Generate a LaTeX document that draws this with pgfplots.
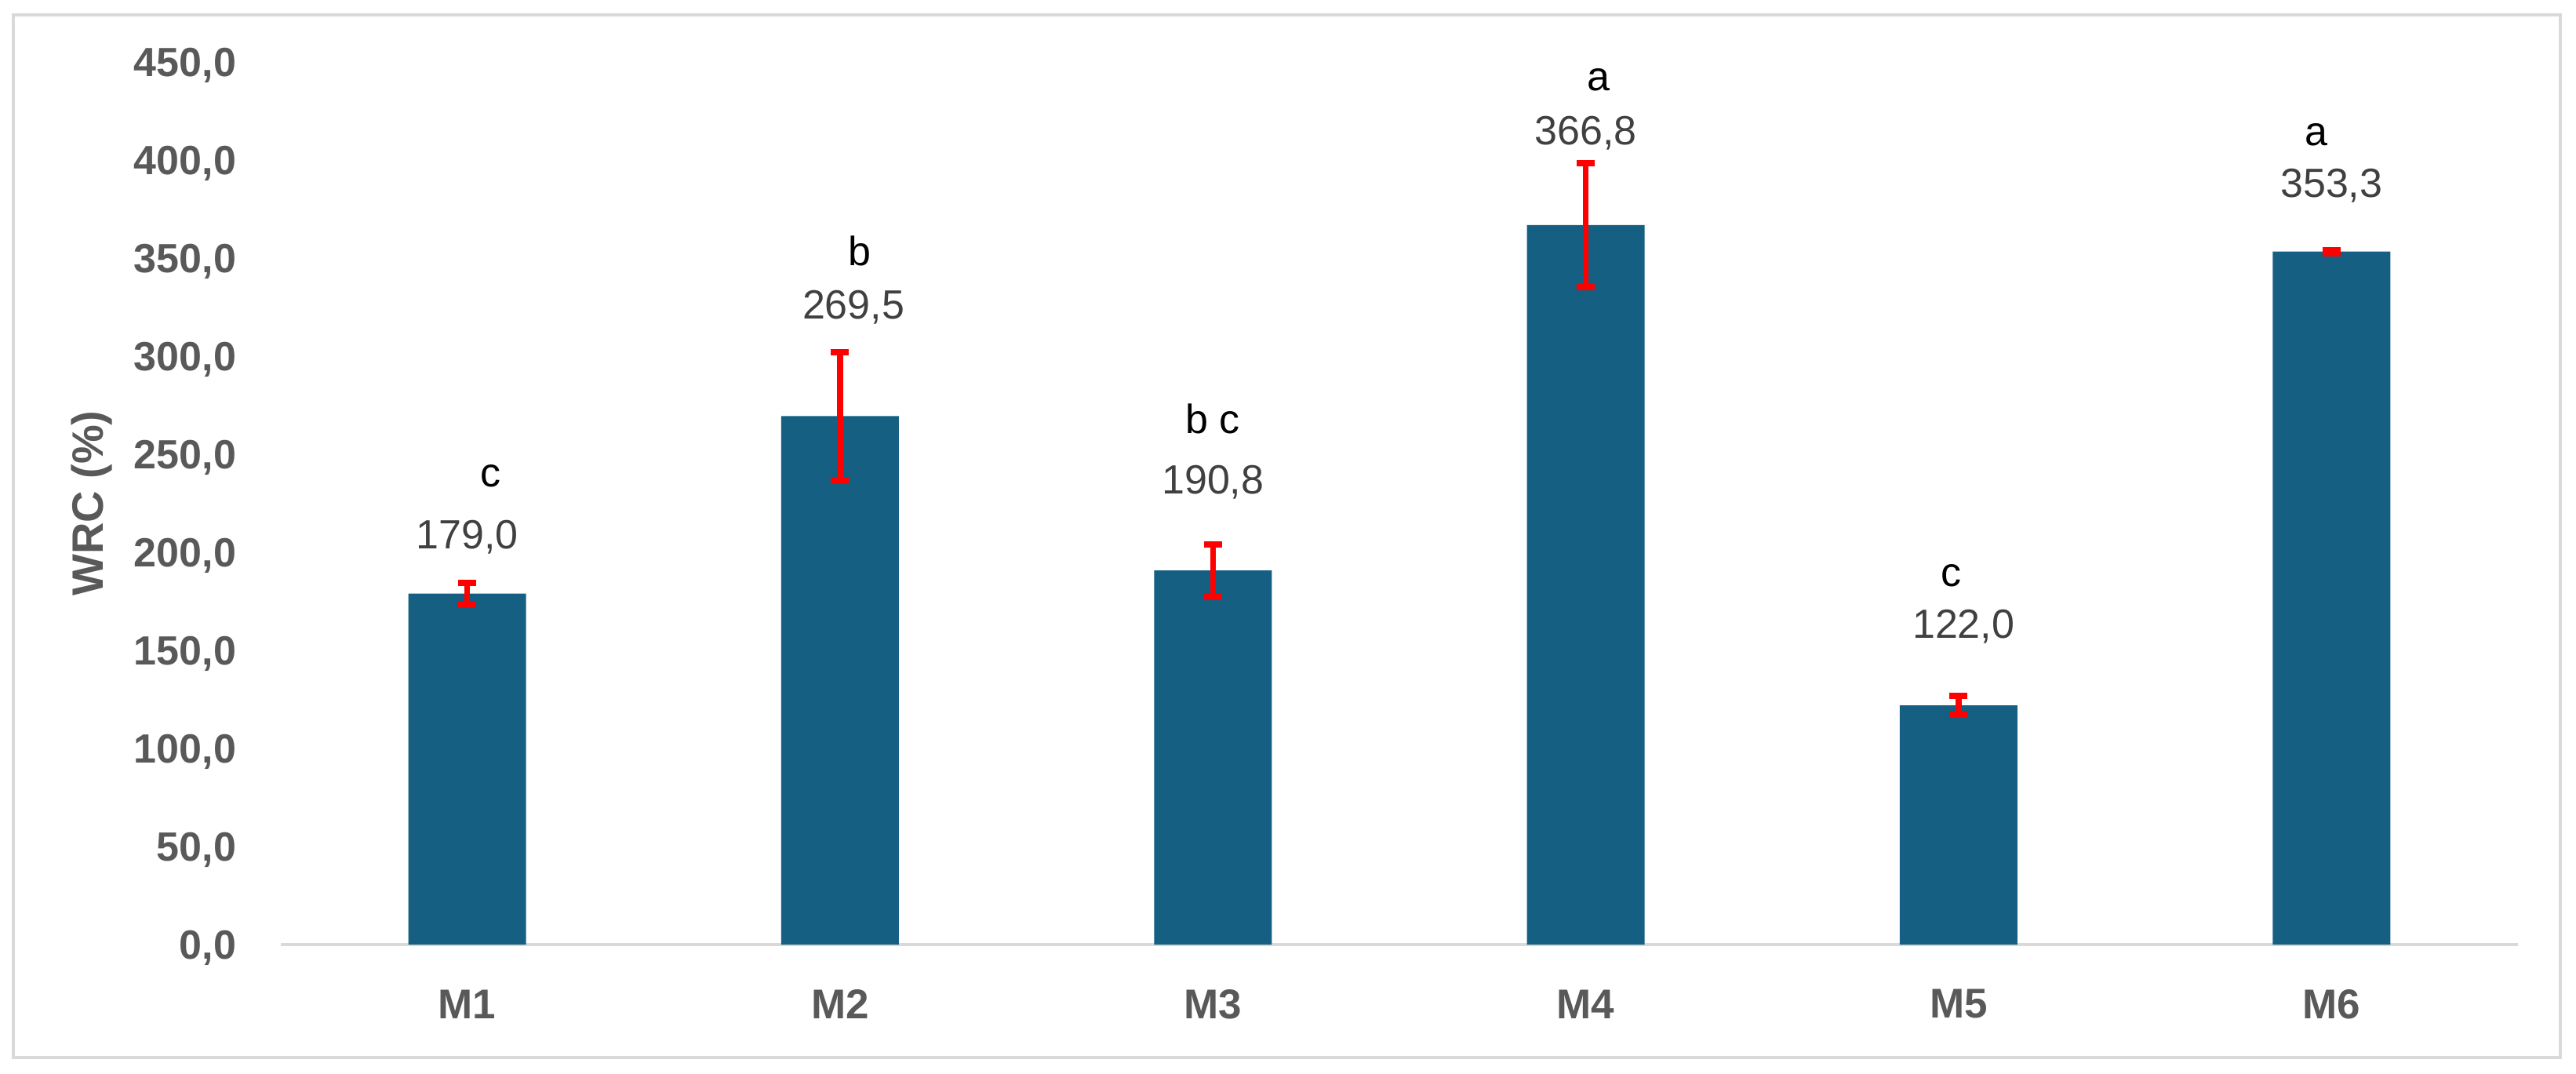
\documentclass[border=0pt]{standalone}
\usepackage{pgfplots}
\pgfplotsset{compat=1.18}
\usepackage{pgfplotstable}
\usepackage{fontspec}
\setmainfont{Liberation Sans}
\definecolor{barblue}{HTML}{156082}
\definecolor{tickgray}{HTML}{595959}
\definecolor{valgray}{HTML}{404040}
\definecolor{framegray}{HTML}{D9D9D9}

\pgfplotstableread{
x y err
0 179.0 5.4
1 269.5 32.6
2 190.8 13.4
3 366.8 31.5
4 122.0 4.8
5 353.3 0.8
}\bars

\pgfplotstableread{
x y lab
0 201.7 {179,0}
1.036 318.8 {269,5}
2 230.0 {190,8}
3 408.0 {366,8}
4.013 156.2 {122,0}
5 381.0 {353,3}
}\vals

\pgfplotstableread{
x y lab
0.063 233.4 {c}
1.052 346.4 {b}
2 260.8 {b c}
3.034 435.2 {a}
3.981 182.6 {c}
4.96 407.2 {a}
}\lets

\begin{document}
\begin{tikzpicture}
\draw[framegray, line width=0.7pt] (-68.2pt,-28.8pt) rectangle (581.2pt,237pt);
\begin{axis}[
  scale only axis,
  width=570.4pt, height=225pt,
  xmin=-0.5, xmax=5.5, ymin=0, ymax=450,
  clip=false,
  axis x line*=bottom,
  axis y line*=left,
  x axis line style={draw=framegray, line width=0.9pt, -},
  y axis line style={draw=none},
  major tick length=0pt,
  xtick={0,1,2,3,4,5},
  xticklabels={M1,M2,M3,M4,M5,M6},
  ytick={0,50,100,150,200,250,300,350,400,450},
  yticklabel={\pgfmathprintnumber[fixed,fixed zerofill,precision=1,use comma]{\tick}},
  /pgf/number format/assume math mode=true,
  xticklabel style={font=\fontsize{10.6}{12}\selectfont\bfseries, text=tickgray, anchor=center, inner sep=0pt, yshift=-15.2pt},
  yticklabel style={font=\fontsize{10.4}{12}\selectfont\bfseries, text=tickgray, anchor=base east, inner sep=0pt, xshift=-11.2pt, yshift=-3.72pt},
  ylabel={WRC (\%)},
  every axis y label/.style={at={(axis description cs:-0.0845,0.5)}, rotate=90, anchor=center, font=\fontsize{11.2}{13}\selectfont\bfseries, text=tickgray},
]
\addplot[ybar, bar width=30pt, fill=barblue, draw=none,
  error bars/.cd, y dir=both, y explicit,
  error bar style={red, line width=1.5pt},
  error mark=-,
  error mark options={red, line width=1.6pt, mark size=2.3pt, rotate=90}]
  table[x=x, y=y, y error=err] {\bars};
\addplot[only marks, mark=none,
  nodes near coords, point meta=explicit symbolic,
  nodes near coords align={anchor=base},
  every node near coord/.append style={inner sep=0pt, text=valgray, font=\fontsize{10.4}{12}\selectfont}]
  table[x=x, y=y, meta=lab] {\vals};
\addplot[only marks, mark=none,
  nodes near coords, point meta=explicit symbolic,
  nodes near coords align={anchor=base},
  every node near coord/.append style={inner sep=0pt, text=black, font=\fontsize{10.4}{12}\selectfont}]
  table[x=x, y=y, meta=lab] {\lets};
\end{axis}
\path (-71.6pt,-32.8pt) rectangle (585.2pt,240.8pt);
\end{tikzpicture}
\end{document}
